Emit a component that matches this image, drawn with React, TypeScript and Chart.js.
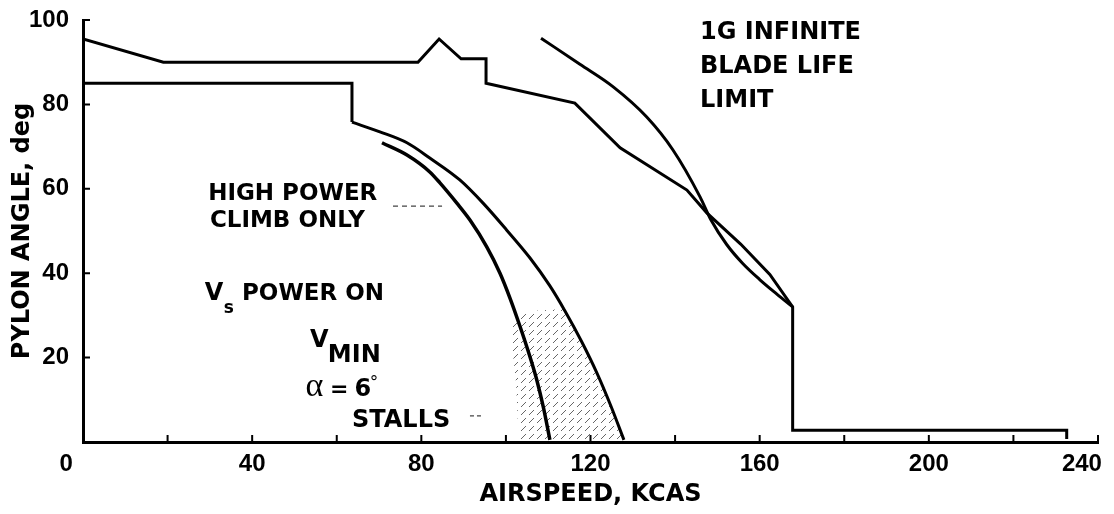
import React, { useEffect, useRef } from 'react';
import { Chart, registerables } from 'chart.js';

Chart.register(...registerables);

// ---- data (airspeed KCAS, pylon angle deg) ----
const conversionX = [0, 19, 79.2, 84.2, 89.4, 95.3, 95.3, 116.3, 127, 142.8, 147.5, 155.5, 162.4, 167.8, 167.8, 232.6, 232.6];
const conversionY = [95.5, 90, 90, 95.5, 90.8, 90.8, 85, 80.3, 69.7, 59.7, 54.3, 46.9, 39.7, 32, 2.8, 2.8, 0.7];

const bladeLifeX = [108.3, 117.5, 125.3, 133.3, 139.5, 145.9, 148.5, 152.2, 156.0, 160.0, 164.0, 167.8];
const bladeLifeY = [95.7, 89.5, 84.2, 77.0, 69.2, 58.1, 52.6, 46.8, 42.3, 38.5, 35.1, 32.0];

const powerOnStepX = [0, 63.6, 63.6];
const powerOnStepY = [85, 85, 75.8];
const powerOnX = [63.6, 70.2, 76.6, 82.0, 89.1, 94.6, 100.2, 105.7, 110.4, 114.0, 117.8, 121.5, 124.8, 127.9];
const powerOnY = [75.8, 73.5, 70.9, 67.3, 62.1, 56.6, 50.2, 43.6, 37.0, 31.0, 24.0, 16.4, 8.6, 0.5];

const vminX = [70.7, 76.6, 82.0, 84.4, 88.4, 91.5, 95.5, 98.6, 101.0, 103.3, 105.5, 107.3, 108.9, 110.4];
const vminY = [70.9, 68.0, 64.0, 61.4, 56.6, 52.6, 46.2, 40.0, 34.0, 27.5, 20.8, 14.7, 8.0, 0.5];

const stallHatchX = [101.0, 105.0, 113.5, 117.8, 121.5, 124.8, 127.7, 103.0, 102.4, 101.0];
const stallHatchY = [27.0, 31.0, 31.5, 24.0, 16.4, 8.6, 0.5, 0.5, 14.0, 27.0];

const highPowerLeaderX = [73.3, 84.9];
const highPowerLeaderY = [55.9, 55.9];
const stallsLeaderX = [91.5, 94.3];
const stallsLeaderY = [6.2, 6.2];

const xTickLabels = [40, 80, 120, 160, 200];
const yTickLabels = [20, 40, 60, 80, 100];
const xMinorTicks = [20, 40, 60, 80, 100, 120, 140, 160, 180, 200, 220, 240];

const BOLD = 'bold 24px "DejaVu Sans"';
// annotation text: [text, x value (left), y value (baseline), font]
const notes: [string, number, number, string][] = [
  ['1G INFINITE', 145.9, 95.5, BOLD],
  ['BLADE LIFE', 145.9, 87.4, BOLD],
  ['LIMIT', 145.9, 79.4, BOLD],
  ['HIGH POWER', 29.6, 57.3, 'bold 23px "DejaVu Sans"'],
  ['CLIMB ONLY', 30.0, 50.9, 'bold 23px "DejaVu Sans"'],
  ['V', 28.8, 33.6, BOLD],
  ['s', 33.3, 30.6, 'bold 17px "DejaVu Sans"'],
  ['POWER ON', 37.6, 33.6, 'bold 23px "DejaVu Sans"'],
  ['V', 53.7, 22.6, BOLD],
  ['MIN', 57.9, 19.0, BOLD],
  ['\u03b1', 52.6, 10.9, '34px "Liberation Serif"'],
  ['=', 58.4, 10.9, 'bold 22px "DejaVu Sans"'],
  ['6', 64.2, 10.9, BOLD],
  ['\u00b0', 67.8, 12.8, '17px "DejaVu Sans"'],
  ['STALLS', 63.6, 3.6, BOLD],
];
// axis end labels placed off their ticks as in the original: [text, x value (centre)]
const edgeLabels: [string, number][] = [
  ['0', -4],
  ['240', 236.2],
];

const pts = (xs: number[], ys: number[]) => xs.map((x, i) => ({ x, y: ys[i] }));

function makeHatch(): CanvasPattern | string {
  const c = document.createElement('canvas');
  c.width = 8;
  c.height = 8;
  const g = c.getContext('2d');
  if (!g) return 'rgba(0,0,0,0.2)';
  g.strokeStyle = 'rgba(0,0,0,0.6)';
  g.lineWidth = 1;
  g.beginPath();
  g.moveTo(1, 7);
  g.lineTo(6, 2);
  g.stroke();
  return g.createPattern(c, 'repeat') || 'rgba(0,0,0,0.2)';
}

const decor = {
  id: 'decor',
  afterDraw(chart: any) {
    const { ctx, chartArea, scales } = chart;
    const xs = scales.x;
    const ys = scales.y;
    ctx.save();
    ctx.strokeStyle = '#000';
    ctx.lineWidth = 2;
    ctx.beginPath();
    for (const v of xMinorTicks) {
      const px = xs.getPixelForValue(v);
      ctx.moveTo(px, chartArea.bottom);
      ctx.lineTo(px, chartArea.bottom - 7);
    }
    for (const v of yTickLabels) {
      const py = ys.getPixelForValue(v);
      ctx.moveTo(chartArea.left, py);
      ctx.lineTo(chartArea.left + 7, py);
    }
    ctx.stroke();
    ctx.fillStyle = '#000';
    ctx.font = 'bold 24px "Liberation Sans"';
    ctx.textAlign = 'center';
    ctx.textBaseline = 'middle';
    for (const [t, x] of edgeLabels) {
      ctx.fillText(t, xs.getPixelForValue(x), chartArea.bottom + 22);
    }
    ctx.textAlign = 'left';
    ctx.textBaseline = 'alphabetic';
    for (const [t, x, y, f] of notes) {
      ctx.font = f;
      ctx.fillText(t, xs.getPixelForValue(x), ys.getPixelForValue(y));
    }
    ctx.restore();
  },
};

export default function App() {
  const ref = useRef<HTMLCanvasElement | null>(null);
  useEffect(() => {
    if (!ref.current) return;
    const line = (xs: number[], ys: number[], extra: any = {}) => ({
      data: pts(xs, ys),
      showLine: true,
      borderColor: '#000',
      borderWidth: 3,
      pointRadius: 0,
      fill: false,
      tension: 0,
      ...extra,
    });
    const smooth = { cubicInterpolationMode: 'monotone' };
    const tickFont = { family: 'Liberation Sans', weight: 'bold' as const, size: 24 };
    const titleFont = { family: 'DejaVu Sans', weight: 'bold' as const, size: 24 };
    const chart = new Chart(ref.current, {
      type: 'scatter',
      data: {
        datasets: [
          line(conversionX, conversionY),
          line(bladeLifeX, bladeLifeY, smooth),
          line(powerOnStepX, powerOnStepY),
          line(powerOnX, powerOnY, smooth),
          line(vminX, vminY, { ...smooth, borderWidth: 3.5 }),
          line(highPowerLeaderX, highPowerLeaderY, { borderWidth: 1.2, borderColor: '#444', borderDash: [5, 4] }),
          line(stallsLeaderX, stallsLeaderY, { borderWidth: 1.2, borderColor: '#444', borderDash: [4, 3] }),
          line(stallHatchX, stallHatchY, { borderWidth: 0, borderColor: 'rgba(0,0,0,0)', fill: 'shape', backgroundColor: makeHatch() }),
        ],
      },
      options: {
        animation: false,
        responsive: false,
        devicePixelRatio: 1,
        layout: { padding: { top: 20, right: 16, left: 0, bottom: 0 } },
        plugins: { legend: { display: false }, tooltip: { enabled: false } },
        scales: {
          x: {
            type: 'linear',
            min: 0,
            max: 240,
            afterFit: (s: any) => {
              s.height = 72;
              s.paddingLeft = 0;
              s.paddingRight = 0;
            },
            afterBuildTicks: (s: any) => {
              s.ticks = xTickLabels.map((v) => ({ value: v }));
            },
            ticks: { font: tickFont, color: '#000', padding: 0, maxRotation: 0, autoSkip: false },
            grid: { display: false },
            border: { display: true, width: 3, color: '#000' },
            title: { display: true, text: 'AIRSPEED, KCAS', font: titleFont, color: '#000', padding: { top: 0, bottom: 5 } },
          },
          y: {
            type: 'linear',
            min: 0,
            max: 100,
            afterFit: (s: any) => {
              s.width = 83;
              s.paddingTop = 0;
              s.paddingBottom = 0;
            },
            afterBuildTicks: (s: any) => {
              s.ticks = yTickLabels.map((v) => ({ value: v }));
            },
            ticks: { font: tickFont, color: '#000', padding: 6 },
            grid: { display: false },
            border: { display: true, width: 3, color: '#000' },
            title: { display: true, text: 'PYLON ANGLE, deg', font: titleFont, color: '#000', padding: { top: 8, bottom: 0 } },
          },
        },
      },
      plugins: [decor],
    } as any);
    return () => chart.destroy();
  }, []);
  return (
    <div style={{ position: 'fixed', left: 0, top: 0, width: 1114, height: 514, background: '#fff' }}>
      <canvas ref={ref} width={1114} height={514} style={{ width: 1114, height: 514, display: 'block' }} />
    </div>
  );
}
